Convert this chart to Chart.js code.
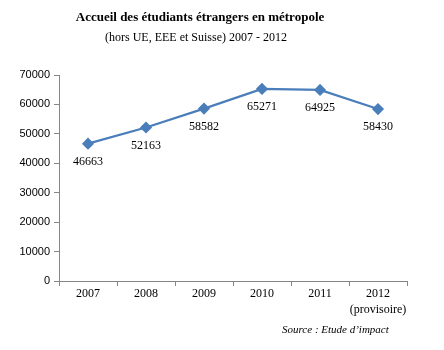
<!DOCTYPE html>
<html>
<head>
<meta charset="utf-8">
<script src="https://cdn.jsdelivr.net/npm/chart.js@4"></script>
<style>
  html, body { margin: 0; padding: 0; background: #fff; }
  #wrap { width: 444px; height: 350px; position: relative; }
</style>
</head>
<body>
<div id="wrap"><canvas id="chart" width="444" height="350"></canvas></div>
<script>
/* Data */
const years = ['2007', '2008', '2009', '2010', '2011', ['2012', '(provisoire)']];
const students = [46663, 52163, 58582, 65271, 64925, 58430];
const yTicks = [0, 10000, 20000, 30000, 40000, 50000, 60000, 70000];

const titleText = 'Accueil des étudiants étrangers en métropole';
const subtitleText = '(hors UE, EEE et Suisse) 2007 - 2012';
const sourceText = 'Source : Etude d\u2019impact';

const serif = '"Liberation Serif", "DejaVu Serif", serif';
const sans = '"Liberation Sans", "DejaVu Sans", sans-serif';
const axisColor = '#868686';
const lineColor = '#4a7ebb';

// Value labels under each point
const valueLabels = {
  id: 'valueLabels',
  afterDatasetsDraw(chart) {
    const ctx = chart.ctx;
    const meta = chart.getDatasetMeta(0);
    ctx.save();
    ctx.font = '12px ' + serif;
    ctx.fillStyle = '#000';
    ctx.textAlign = 'center';
    ctx.textBaseline = 'middle';
    meta.data.forEach((pt, i) => {
      ctx.fillText(String(students[i]), pt.x, pt.y + 18);
    });
    ctx.restore();
  }
};

// Titles and source note
const headings = {
  id: 'headings',
  afterDraw(chart) {
    const ctx = chart.ctx;
    ctx.save();
    ctx.fillStyle = '#000';
    ctx.textAlign = 'center';
    ctx.textBaseline = 'middle';
    ctx.font = 'bold 13px ' + serif;
    ctx.fillText(titleText, 200, 18);
    ctx.font = '12px ' + serif;
    ctx.fillText(subtitleText, 196, 38);
    ctx.font = 'italic 11px ' + serif;
    ctx.textAlign = 'left';
    ctx.fillText(sourceText, 282, 330);
    ctx.restore();
  }
};

new Chart(document.getElementById('chart'), {
  type: 'line',
  data: {
    labels: years,
    datasets: [{
      data: students,
      borderColor: lineColor,
      backgroundColor: lineColor,
      borderWidth: 2.25,
      pointStyle: 'rectRot',
      pointRadius: 4.5,
      pointHoverRadius: 4.5,
      tension: 0,
      fill: false
    }]
  },
  options: {
    responsive: false,
    animation: false,
    events: [],
    layout: { padding: { top: 75, right: 37, bottom: 19, left: 0 } },
    plugins: {
      legend: { display: false },
      tooltip: { enabled: false },
      title: { display: false }
    },
    scales: {
      x: {
        offset: true,
        grid: {
          display: true,
          offset: true,
          drawOnChartArea: false,
          tickLength: 5,
          color: axisColor
        },
        border: { color: axisColor, width: 1 },
        ticks: {
          color: '#000',
          font: { family: serif, size: 12, lineHeight: 1.3 },
          padding: 0,
          maxRotation: 0,
          autoSkip: false
        },
        afterFit(scale) { scale.height = 50; }
      },
      y: {
        min: 0,
        max: 70000,
        afterBuildTicks(scale) {
          scale.ticks = yTicks.map(v => ({ value: v }));
        },
        grid: {
          display: true,
          drawOnChartArea: false,
          tickLength: 5,
          color: axisColor
        },
        border: { color: axisColor, width: 1 },
        ticks: {
          color: '#000',
          font: { family: sans, size: 11 },
          padding: 4,
          callback: v => String(v)
        },
        afterFit(scale) { scale.width = 59; }
      }
    }
  },
  plugins: [valueLabels, headings]
});
</script>
</body>
</html>
